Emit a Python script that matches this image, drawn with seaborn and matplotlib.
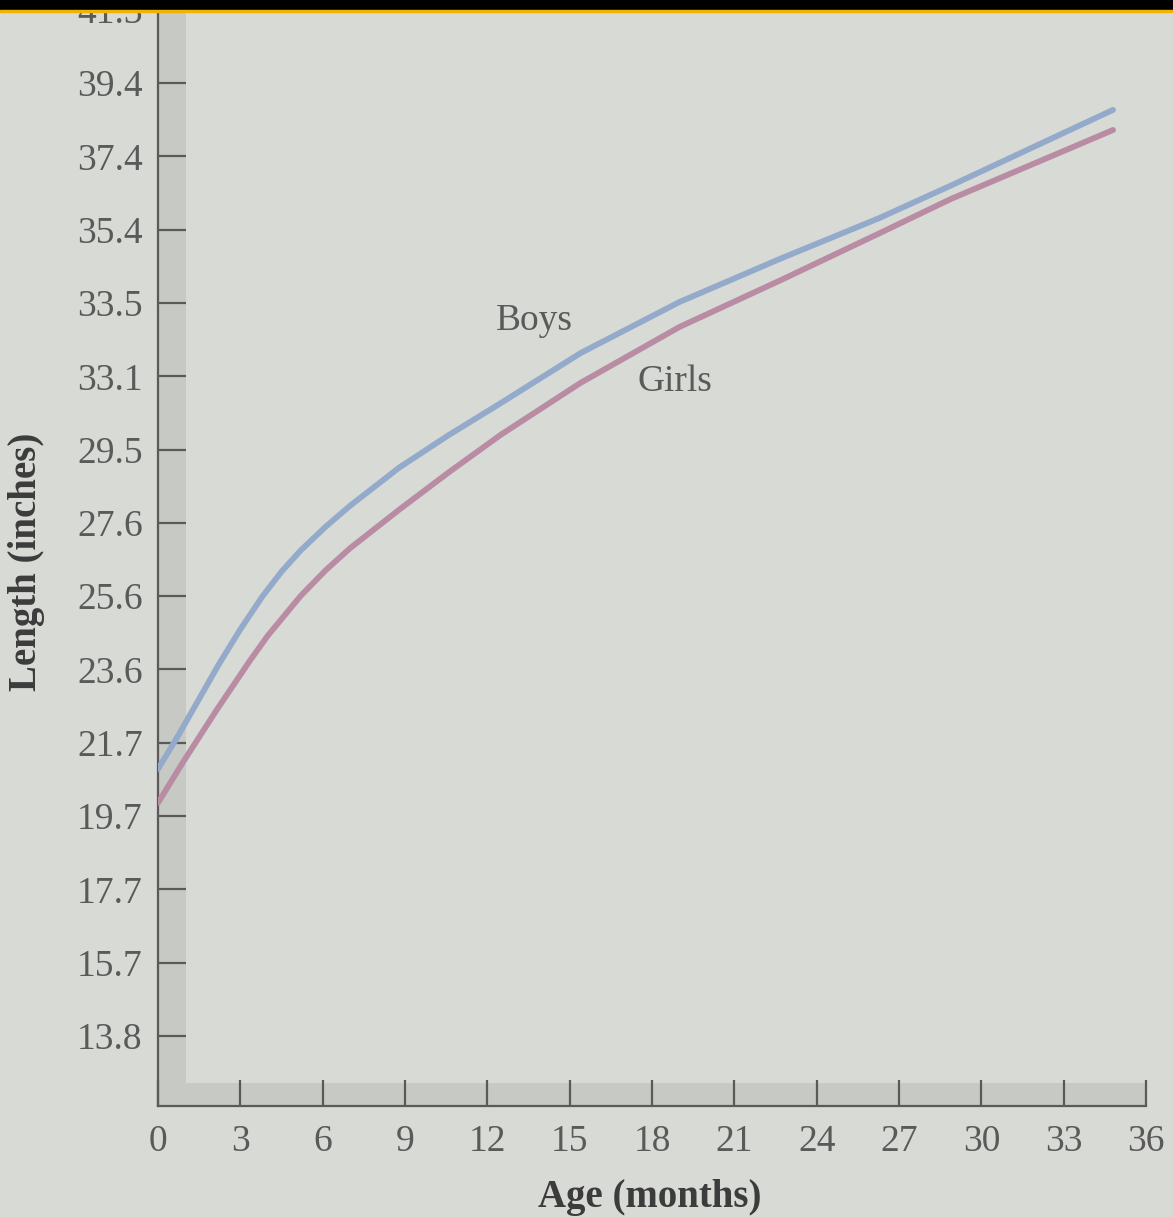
import numpy as np
import pandas as pd
import matplotlib
matplotlib.use("Agg")
import matplotlib.pyplot as plt
import seaborn as sns
from matplotlib.patches import Rectangle

# values (age in months, length in inches)
boys_age = [0, 0.7, 2.2, 3.0, 3.8, 4.5, 5.2, 6.1, 7.0, 8.8, 10.6, 12.5, 15.4, 19.0,
            22.7, 26.3, 28.9, 34.8]
boys_len = [20.95, 21.80, 23.74, 24.70, 25.58, 26.25, 26.82, 27.45, 28.02, 29.05, 29.92,
            30.78, 32.12, 33.49, 34.66, 35.75, 36.62, 38.65]
girls_age = [0, 0.9, 2.15, 3.35, 4.0, 5.2, 6.1, 7.0, 8.8, 10.6, 12.5, 15.4, 19.0, 22.7,
             26.3, 28.9, 34.8]
girls_len = [20.04, 21.12, 22.55, 23.86, 24.53, 25.60, 26.28, 26.88, 27.92, 28.92, 29.93,
             31.32, 32.82, 34.08, 35.34, 36.26, 38.11]

# y tick labels as printed (evenly spaced, 5 cm apart)
y_tick_cm = [35, 40, 45, 50, 55, 60, 65, 70, 75, 80, 85, 90, 95, 100, 105]
y_tick_labels = ["13.8", "15.7", "17.7", "19.7", "21.7", "23.6", "25.6", "27.6",
                 "29.5", "33.1", "33.5", "35.4", "37.4", "39.4", "41.3"]
x_ticks = list(range(0, 37, 3))

BG = "#d8dad6"
BAND = "#c7c9c5"
INK = "#5a5a5a"

df = pd.concat([
    pd.DataFrame({"age": boys_age, "length": boys_len, "sex": "Boys"}),
    pd.DataFrame({"age": girls_age, "length": girls_len, "sex": "Girls"}),
])

sns.set_theme(style="ticks")
plt.rcParams["font.family"] = ["Liberation Serif", "DejaVu Serif"]

fig = plt.figure(figsize=(11.73, 12.17), dpi=100, facecolor=BG)
ax = fig.add_axes([158 / 1173, 1 - 1106 / 1217, (1146 - 158) / 1173, 1106 / 1217])
ax.set_facecolor(BG)

ymin, ymax = 11.90, 41.6
ax.set_xlim(0, 36)
ax.set_ylim(ymin, ymax)

# grey L-shaped band along the axes
ax.axvspan(0, 1.02, color=BAND, lw=0, zorder=0)
ax.axhspan(ymin, ymin + 0.62, color=BAND, lw=0, zorder=0)

sns.lineplot(data=df, x="age", y="length", hue="sex",
             palette={"Boys": "#93aacb", "Girls": "#b98ca4"},
             lw=4.2, legend=False, ax=ax, zorder=3)
for ln in ax.lines:
    ln.set_solid_joinstyle("round")
    ln.set_solid_capstyle("round")

ax.text(13.7, 33.0, "Boys", fontsize=27, color=INK, ha="center", va="center")
ax.text(18.85, 31.35, "Girls", fontsize=27, color=INK, ha="center", va="center")

ax.set_yticks(np.array(y_tick_cm) / 2.54)
ax.set_yticklabels(y_tick_labels)
ax.set_xticks(x_ticks)
ax.tick_params(axis="y", direction="in", length=20, width=1.6, color=INK,
               labelsize=27, labelcolor=INK, pad=11)
ax.tick_params(axis="x", direction="in", length=19, width=1.6, color=INK,
               labelsize=27, labelcolor=INK, pad=13)

for side in ["top", "right"]:
    ax.spines[side].set_visible(False)
for side in ["left", "bottom"]:
    ax.spines[side].set_color(INK)
    ax.spines[side].set_linewidth(1.6)

ax.set_xlabel("")
ax.set_ylabel("")
fig.text(650 / 1173, 1 - 1197 / 1217, "Age (months)", fontsize=28, fontweight="bold",
         color="#3c3c3c", ha="center", va="center")
fig.text(27 / 1173, 1 - 562 / 1217, "Length (inches)", fontsize=28, fontweight="bold",
         color="#3c3c3c", ha="center", va="center", rotation=90)

# black strip at the top of the photo
fig.patches.append(Rectangle((0, 1 - 10 / 1217), 1, 10 / 1217, transform=fig.transFigure,
                             color="black", zorder=10))
fig.patches.append(Rectangle((0, 1 - 12 / 1217), 1, 2 / 1217, transform=fig.transFigure,
                             color="#f0b400", zorder=10))

fig.savefig("out.png", dpi=100, facecolor=BG)
